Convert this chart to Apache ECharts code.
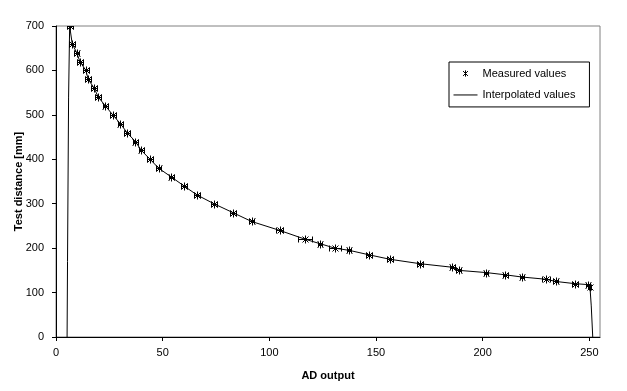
<!DOCTYPE html>
<html>
<head>
<meta charset="utf-8">
<script src="https://cdn.jsdelivr.net/npm/echarts@6/dist/echarts.min.js"></script>
<style>html,body{margin:0;padding:0;background:#fff}#c{width:627px;height:391px}</style>
</head>
<body>
<div id="c"></div>
<script>
// Measured values: AD output (x), test distance in mm (y), horizontal error (AD units)
var measuredAD = [6.5, 7.6, 9.7, 11.2, 14.0, 15.1, 17.9, 19.8, 23.2, 26.6, 30.2, 33.3, 37.2, 40.0, 44.1, 48.1, 54.1, 60.0, 66.0, 74.0, 82.9, 91.7, 104.8, 116.8, 123.8, 130.7, 137.5, 146.7, 156.5, 170.6, 185.7, 188.8, 201.7, 210.6, 218.4, 229.6, 234.3, 243.3, 249.2, 250.3];
var measuredDist = [700, 660, 640, 620, 600, 580, 560, 540, 520, 500, 480, 460, 440, 420, 400, 380, 360, 340, 320, 300, 280, 260, 240, 220, 210, 200, 195, 185, 175, 165, 157, 150, 145, 140, 135, 130, 125, 120, 118, 112];
var measuredErr = [1.4, 1.3, 1.3, 1.3, 1.3, 1.3, 1.3, 1.3, 1.3, 1.3, 1.3, 1.3, 1.3, 1.3, 1.3, 1.3, 1.3, 1.3, 1.3, 1.3, 1.3, 1.3, 1.5, 3.3, 1.0, 2.7, 1.0, 1.3, 1.3, 1.3, 1.1, 1.2, 1.0, 1.2, 0.9, 2.0, 1.2, 1.6, 0.9, 0.5];
// Interpolated curve
var interpAD = [5.2, 5.4, 5.9, 6.4, 7.6, 9.7, 11.2, 14.0, 15.1, 17.9, 19.8, 23.2, 26.6, 30.2, 33.3, 37.2, 40.0, 44.1, 48.1, 54.1, 60.0, 66.0, 74.0, 82.9, 91.7, 104.8, 116.8, 123.8, 130.7, 137.5, 146.7, 156.5, 170.6, 185.7, 188.8, 201.7, 210.6, 218.4, 229.6, 234.3, 243.3, 249.2, 250.3, 250.9, 251.6];
var interpDist = [0, 170, 540, 700, 660, 640, 620, 600, 580, 560, 540, 520, 500, 480, 460, 440, 420, 400, 380, 360, 340, 320, 300, 280, 260, 240, 220, 210, 200, 195, 185, 175, 165, 157, 150, 145, 140, 135, 130, 125, 120, 118, 112, 70, 0];
var xTicks = [0, 50, 100, 150, 200, 250];
var yTicks = [0, 100, 200, 300, 400, 500, 600, 700];

var measuredData = measuredAD.map(function (x, i) { return [x, measuredDist[i], measuredErr[i]]; });
var interpData = interpAD.map(function (x, i) { return [x, interpDist[i]]; });

var FONT = '"Liberation Sans", Arial, sans-serif';
var chart = echarts.init(document.getElementById('c'), null, { renderer: 'canvas' });

function renderMeasured(params, api) {
  var x = api.value(0), y = api.value(1), e = api.value(2);
  var c = api.coord([x, y]);
  var l = api.coord([x - e, y]);
  var r = api.coord([x + e, y]);
  var st = { stroke: '#000', lineWidth: 1, fill: null };
  var s = 3;
  var cx = Math.round(c[0]) + 0.5, cy = Math.round(c[1]) + 0.5;
  var lx = Math.round(l[0]) + 0.5, rx = Math.round(r[0]) + 0.5;
  return {
    type: 'group',
    children: [
      { type: 'line', shape: { x1: lx, y1: cy, x2: rx, y2: cy }, style: st },
      { type: 'line', shape: { x1: lx, y1: cy - 3, x2: lx, y2: cy + 3 }, style: st },
      { type: 'line', shape: { x1: rx, y1: cy - 3, x2: rx, y2: cy + 3 }, style: st },
      { type: 'line', shape: { x1: cx - s, y1: cy - s, x2: cx + s, y2: cy + s }, style: st },
      { type: 'line', shape: { x1: cx - s, y1: cy + s, x2: cx + s, y2: cy - s }, style: st },
      { type: 'line', shape: { x1: cx, y1: cy - s - 1, x2: cx, y2: cy + s + 1 }, style: st }
    ]
  };
}

var option = {
  animation: false,
  backgroundColor: '#fff',
  textStyle: { fontFamily: FONT, color: '#000' },
  grid: {
    left: 56, right: 27, top: 26, bottom: 54,
    outerBoundsMode: 'none', containLabel: false,
    show: true, borderColor: '#808080', borderWidth: 1, backgroundColor: '#fff'
  },
  legend: {
    orient: 'vertical',
    left: 449, top: 62,
    padding: [4, 14, 5, 4],
    itemWidth: 24, itemHeight: 14, itemGap: 7,
    borderColor: '#000', borderWidth: 1, borderRadius: 0,
    backgroundColor: '#fff',
    textStyle: { fontFamily: FONT, fontSize: 11, color: '#000' },
    data: [
      { name: 'Measured values',
        icon: 'path://M0,0M20,20M6.5,6.5L13.5,13.5M13.5,6.5L6.5,13.5M10,5.5L10,14.5',
        itemStyle: { color: 'rgba(0,0,0,0)', borderColor: '#000', borderWidth: 1 } },
      { name: 'Interpolated values',
        icon: 'path://M0,-7M26,7M0,0L26,0',
        itemStyle: { color: 'rgba(0,0,0,0)', borderColor: '#000', borderWidth: 1 } }
    ]
  },
  xAxis: {
    type: 'value', min: 0, max: 255, interval: 50,
    name: 'AD output', nameLocation: 'middle', nameGap: 33, nameMoveOverlap: false,
    nameTextStyle: { fontFamily: FONT, fontSize: 11, fontWeight: 'bold', color: '#000' },
    axisLine: { show: true, onZero: false, lineStyle: { color: '#000', width: 1 } },
    axisTick: { show: true, length: 4, inside: false, customValues: xTicks, lineStyle: { color: '#000' } },
    axisLabel: { customValues: xTicks, margin: 10, fontFamily: FONT, fontSize: 11, color: '#000' },
    splitLine: { show: false }
  },
  yAxis: {
    type: 'value', min: 0, max: 700, interval: 100,
    name: 'Test distance [mm]', nameLocation: 'middle', nameGap: 32, nameMoveOverlap: false,
    nameTextStyle: { fontFamily: FONT, fontSize: 11, fontWeight: 'bold', color: '#000' },
    axisLine: { show: true, onZero: false, lineStyle: { color: '#000', width: 1 } },
    axisTick: { show: true, length: 4, customValues: yTicks, lineStyle: { color: '#000' } },
    axisLabel: { customValues: yTicks, margin: 12, fontFamily: FONT, fontSize: 11, color: '#000' },
    splitLine: { show: false }
  },
  series: [
    {
      name: 'Interpolated values', type: 'line', data: interpData,
      showSymbol: false, symbol: 'none', smooth: false, clip: true,
      lineStyle: { color: '#000', width: 1 }, itemStyle: { color: '#000' }, z: 2
    },
    {
      name: 'Measured values', type: 'custom', data: measuredData,
      renderItem: renderMeasured, clip: true, z: 3,
      encode: { x: 0, y: 1 },
      itemStyle: { color: '#000' }
    }
  ]
};
chart.setOption(option);
</script>
</body>
</html>
